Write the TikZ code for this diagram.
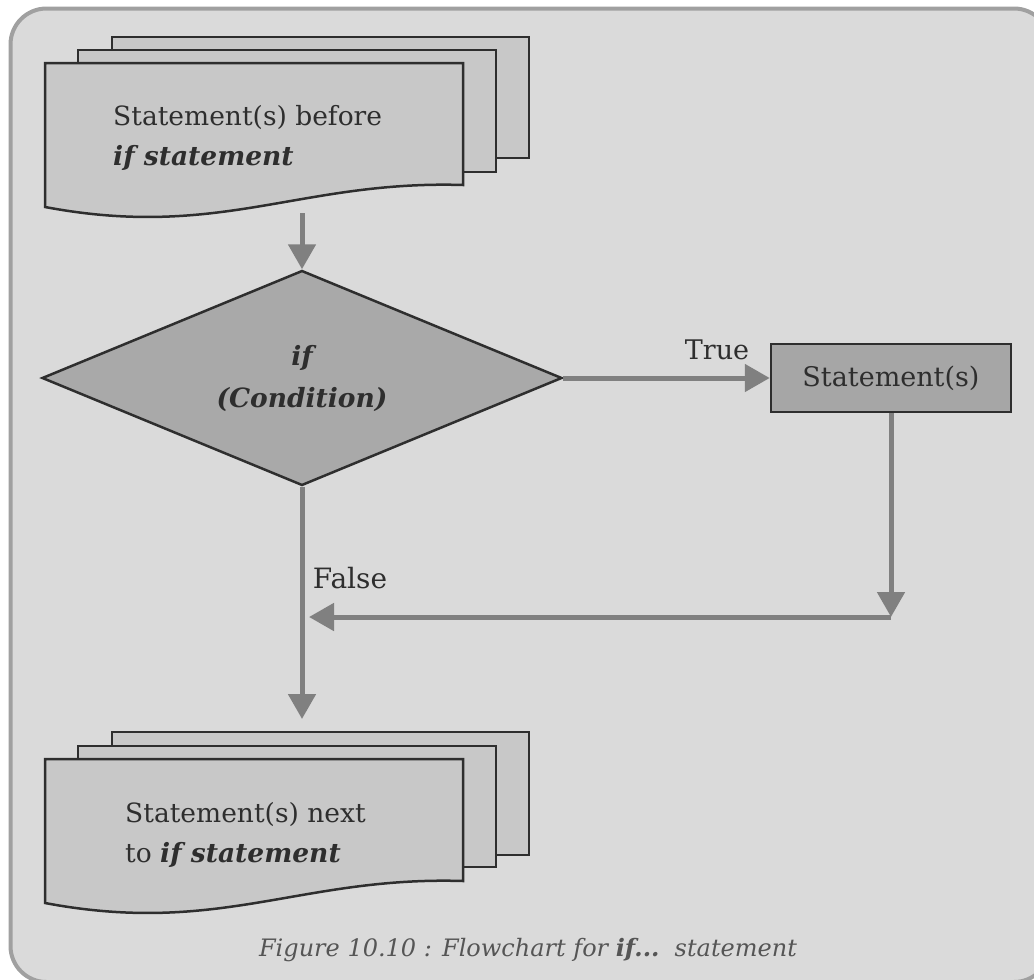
\documentclass[tikz,border=0pt]{standalone}
\usepackage{fontspec}
\setmainfont{DejaVu Serif}
\usetikzlibrary{arrows.meta,shapes.geometric}
\definecolor{bgc}{HTML}{DADADA}
\definecolor{framec}{HTML}{A0A0A0}
\definecolor{docc}{HTML}{C8C8C8}
\definecolor{diac}{HTML}{A9A9A9}
\definecolor{boxc}{HTML}{A6A6A6}
\definecolor{arrc}{HTML}{808080}
\definecolor{inkc}{HTML}{2E2E2E}
\definecolor{capc}{HTML}{555555}
\begin{document}
\begin{tikzpicture}[x=1pt,y=-1pt,
  sheet/.style={draw=inkc,line width=2.5pt,fill=docc,line join=miter},
  arr/.style={draw=arrc,line width=5pt,-{Triangle[length=25pt,width=27pt]}},
  txt/.style={text=inkc,font=\fontsize{26.5}{40}\selectfont,inner sep=0pt},
  lbl/.style={text=inkc,font=\fontsize{27}{30}\selectfont,inner sep=0pt}]
\useasboundingbox (0,0) rectangle (1034,980);
\begin{scope}
\clip (0,0) rectangle (1034,980);
% frame
\draw[draw=framec,fill=bgc,line width=4pt,rounded corners=36pt] (10.5,8.5) rectangle (1050,982);
\end{scope}
% top document stack
\draw[sheet] (112,37) rectangle (529,158);
\draw[sheet] (78,50) rectangle (496,172);
\draw[sheet] (45,63) -- (463,63) -- (463,185) .. controls (300,180) and (220,240) .. (45,207) -- cycle;
\node[txt,anchor=west,align=left] (doc1) at (113,138) {Statement(s) before\\\textbf{\textit{if statement}}};
\coordinate (d1b) at (302,213);
% bottom document stack
\draw[sheet] (112,732) rectangle (529,855);
\draw[sheet] (78,746) rectangle (496,867);
\draw[sheet] (45,759) -- (463,759) -- (463,881) .. controls (300,876) and (220,936) .. (45,903) -- cycle;
\node[txt,anchor=west,align=left] (doc2) at (125,835) {Statement(s) next\\to \textbf{\textit{if statement}}};
\coordinate (d2t) at (302,719);
% decision
\node[shape=diamond,draw=inkc,fill=diac,line width=2.5pt,aspect=2.42,minimum width=520pt,minimum height=215pt,inner sep=0pt,text=inkc,font=\fontsize{26.5}{42}\selectfont\bfseries\itshape,align=center] (cond) at (302,378) {if\\(Condition)};
% statement box
\node[draw=inkc,fill=boxc,line width=2.5pt,minimum width=240pt,minimum height=68pt,inner sep=0pt,lbl] (stmt) at (891,378) {Statement(s)};
% connectors
\coordinate (c1) at (891,617);
\coordinate (c2) at (309,617);
\draw[arr] (d1b) -- (cond.north);
\draw[arr] (cond.east) -- (stmt.west);
\draw[arr] (stmt.south) -- (c1);
\draw[arr] (c1) -- (c2);
\draw[arr] (cond.south) -- (d2t);
% labels
\node[lbl] (ltrue) at (717,350) {True};
\node[lbl,font=\fontsize{28}{30}\selectfont] (lfalse) at (350,578) {False};
\node[text=capc,font=\fontsize{24}{30}\selectfont\itshape,inner sep=0pt] (cap) at (528,950) {Figure 10.10 : Flowchart for \textbf{if...}\ \ statement};
\end{tikzpicture}
\end{document}
